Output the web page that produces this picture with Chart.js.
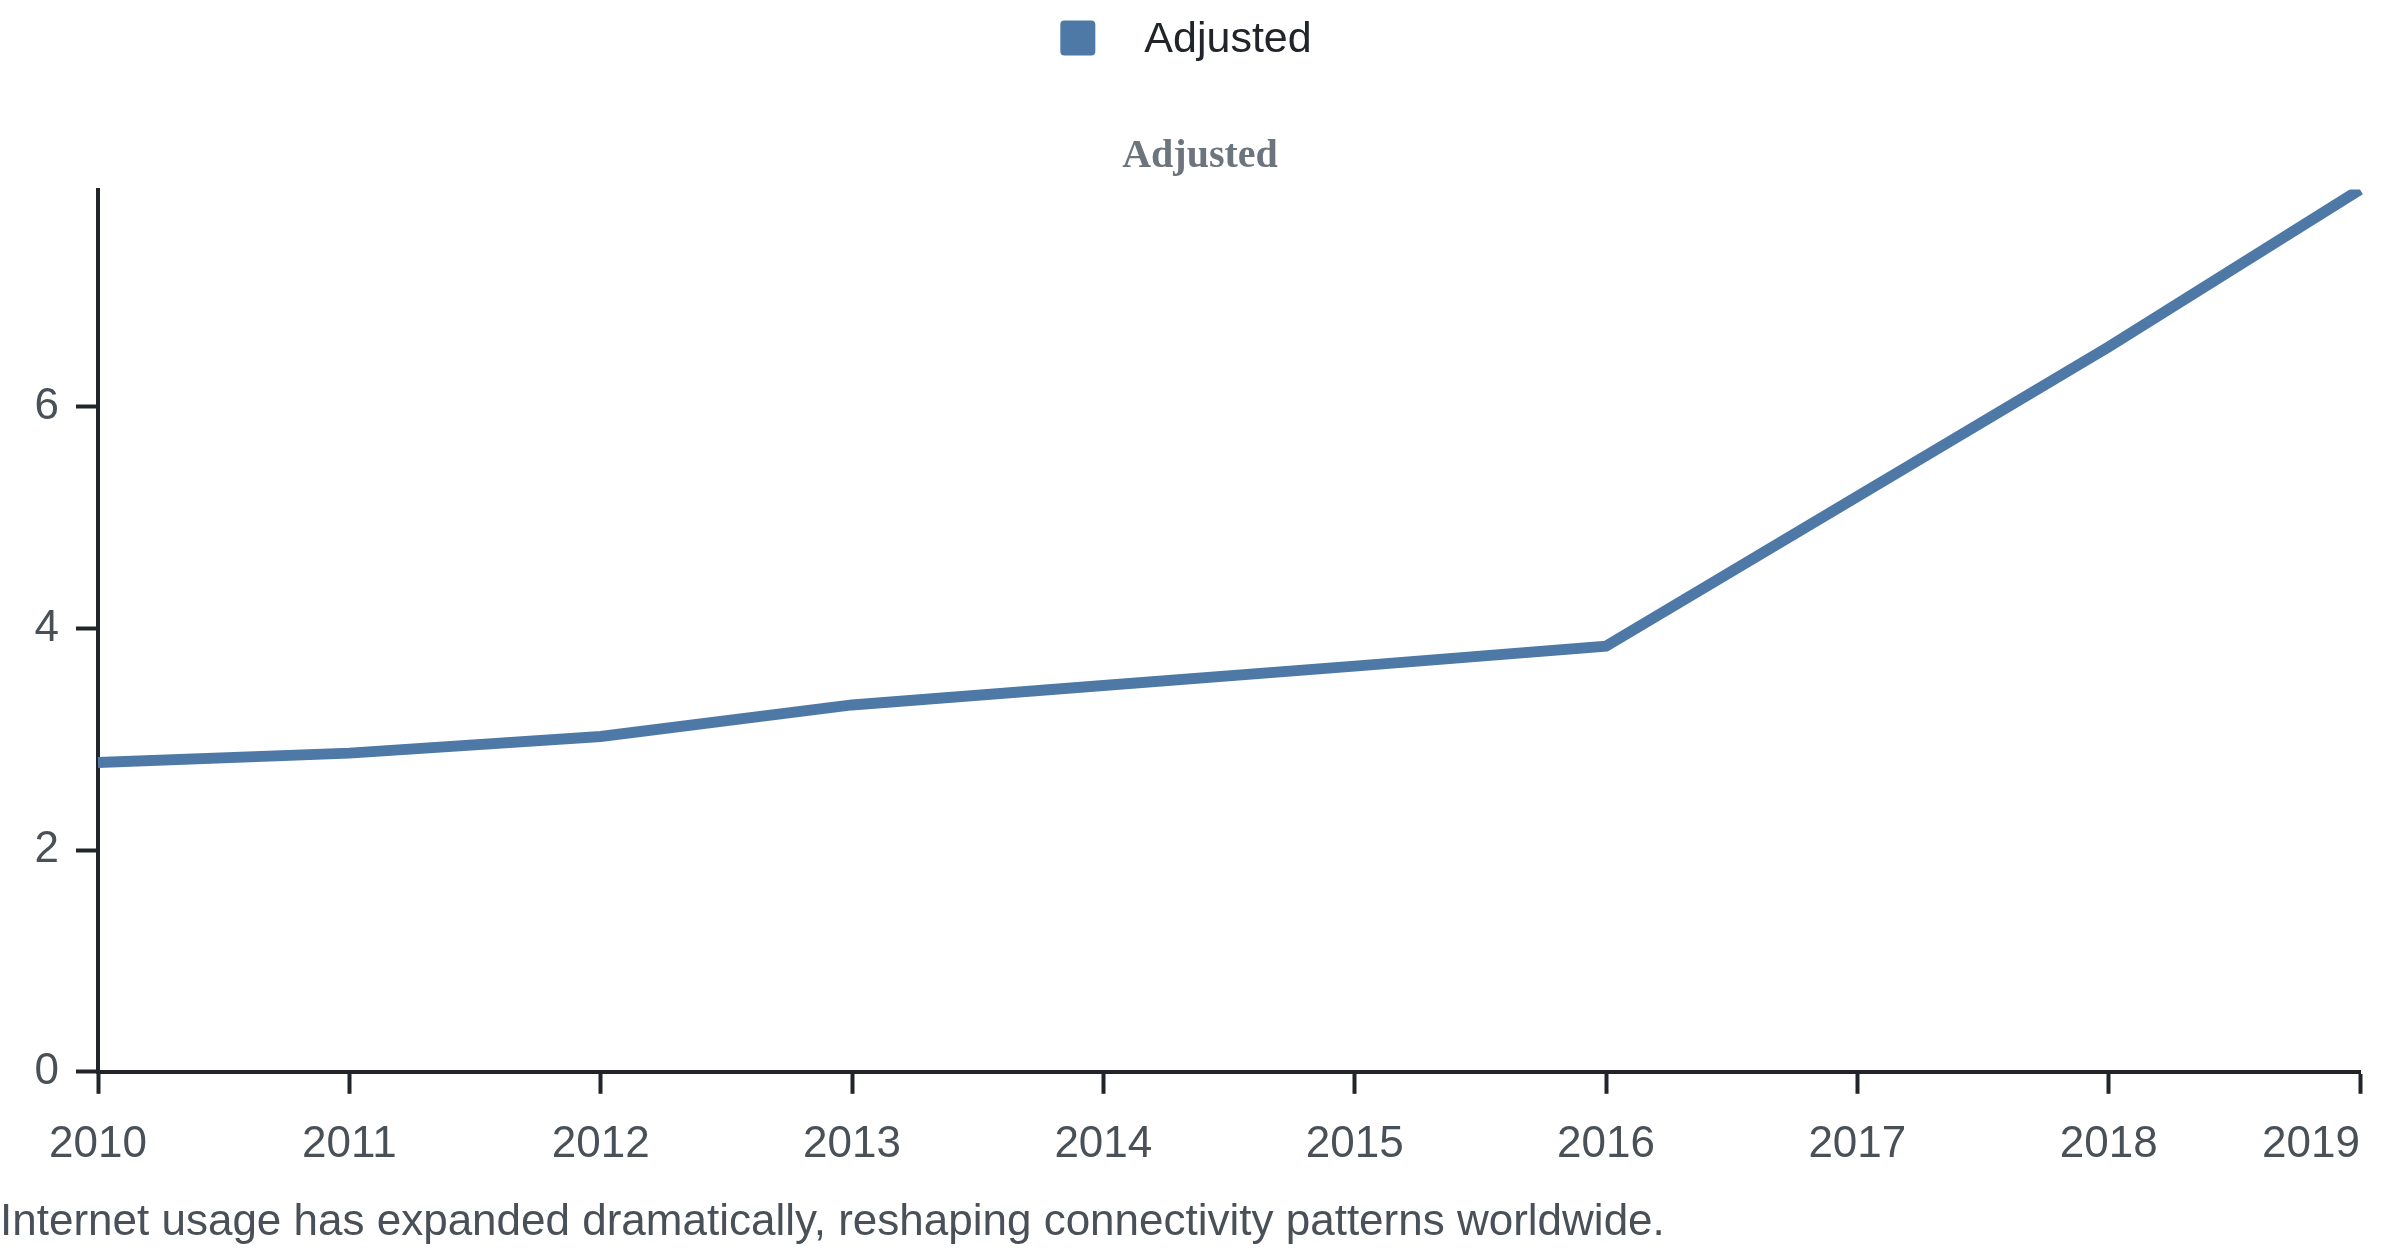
<!DOCTYPE html>
<html>
<head>
<meta charset="utf-8">
<title>Adjusted</title>
<script src="https://cdn.jsdelivr.net/npm/chart.js@4.4.1/dist/chart.umd.min.js"></script>
<style>
  html, body { margin: 0; padding: 0; background: #fff; }
  #wrap { width: 2400px; height: 1256px; position: relative; }
</style>
</head>
<body>
<div id="wrap"><canvas id="chart"></canvas></div>
<script>
const years = ["2010", "2011", "2012", "2013", "2014", "2015", "2016", "2017", "2018", "2019"];
const adjustedValues = [2.79, 2.875, 3.025, 3.31, 3.485, 3.66, 3.84, 5.19, 6.54, 7.96];
const yTickStep = 2;
const seriesLabel = "Adjusted";
const titleText = "Adjusted";
const captionText = "Internet usage has expanded dramatically, reshaping connectivity patterns worldwide.";

const lineColor = "#4e79a7";
const axisColor = "#212529";
const labelColor = "#495057";

Chart.defaults.font.family = "'Liberation Sans', Arial, sans-serif";

// legend sits in the space left free by layout.padding.top
const topLegend = {
  id: "topLegend",
  afterDraw(chart) {
    const ctx = chart.ctx;
    const ds = chart.data.datasets[0];
    const box = 35, gap = 49;
    ctx.save();
    ctx.font = "43px 'Liberation Sans', Arial, sans-serif";
    const textW = ctx.measureText(ds.label).width;
    const left = chart.width / 2 - (box + gap + textW) / 2 - 14;
    const cy = 38;
    ctx.fillStyle = ds.borderColor;
    ctx.beginPath();
    ctx.roundRect(left, cy - box / 2, box, box, 4);
    ctx.fill();
    ctx.fillStyle = "#212529";
    ctx.textBaseline = "middle";
    ctx.fillText(ds.label, left + box + gap, cy + 2);
    ctx.restore();
  }
};

// last year label ends at its tick instead of being centred on it
const lastTickRight = {
  id: "lastTickRight",
  beforeDraw(chart) {
    const items = chart.scales.x.getLabelItems();
    if (items.length) items[items.length - 1].options.textAlign = "right";
  }
};

const axisGrid = { drawOnChartArea: false, tickLength: 22, tickWidth: 4, tickColor: axisColor };
const axisBorder = { color: axisColor, width: 4 };

new Chart(document.getElementById("chart"), {
  type: "line",
  data: {
    labels: years,
    datasets: [{
      label: seriesLabel,
      data: adjustedValues,
      borderColor: lineColor,
      backgroundColor: lineColor,
      borderWidth: 11,
      pointRadius: 0,
      tension: 0,
      fill: false
    }]
  },
  options: {
    responsive: true,
    maintainAspectRatio: false,
    animation: false,
    layout: { padding: { top: 100, right: 0, bottom: 0, left: 0 } },
    plugins: {
      legend: { display: false },
      tooltip: { enabled: false },
      title: {
        display: true,
        text: titleText,
        color: "#6c757d",
        font: { family: "'Liberation Serif', 'Times New Roman', serif", size: 40, weight: "bold" },
        padding: { top: 33, bottom: 8.5 }
      },
      subtitle: {
        display: true,
        position: "bottom",
        align: "start",
        text: captionText,
        color: labelColor,
        font: { size: 44 },
        padding: { top: 1, bottom: 6.6 }
      }
    },
    scales: {
      x: {
        grid: axisGrid,
        border: axisBorder,
        ticks: { color: labelColor, font: { size: 44 }, padding: 24.5, maxRotation: 0, autoSkip: false },
        // keep a fixed 40px gutter on the right, nothing on the left
        afterFit(s) { s.paddingLeft = 0; s.paddingRight = 40; }
      },
      y: {
        min: 0,
        max: Math.max(...adjustedValues),
        grid: axisGrid,
        border: axisBorder,
        ticks: { stepSize: yTickStep, includeBounds: false, color: labelColor, font: { size: 44 }, padding: 17 },
        afterFit(s) { s.width = 98; }
      }
    }
  },
  plugins: [topLegend, lastTickRight]
});
</script>
</body>
</html>
